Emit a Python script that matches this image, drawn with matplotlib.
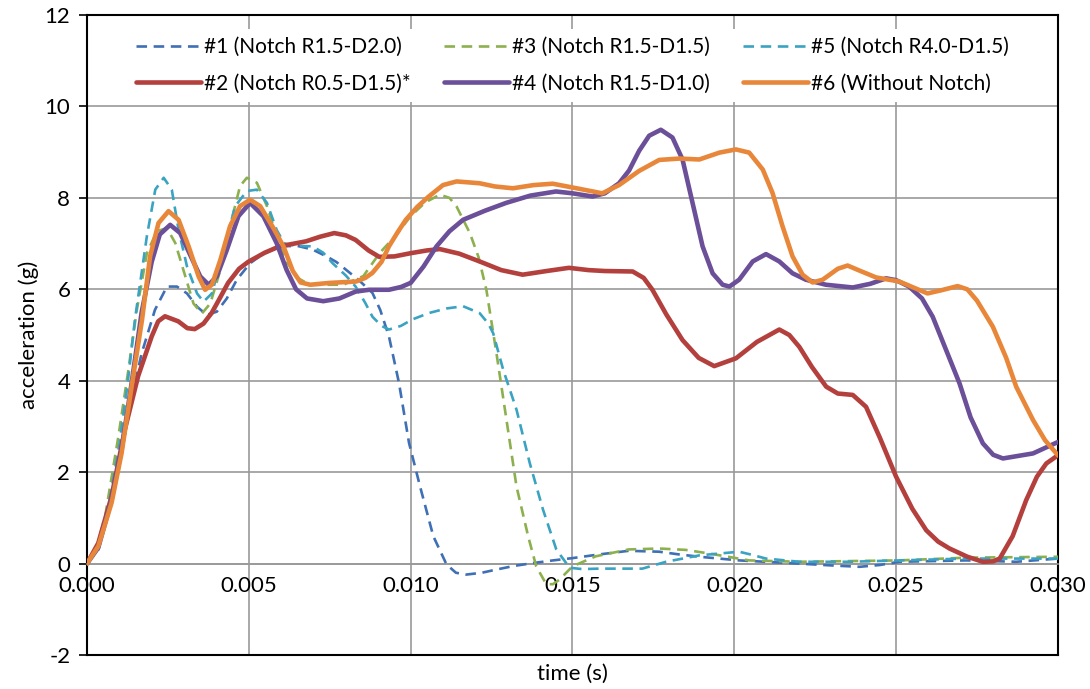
import matplotlib.pyplot as plt
import numpy as np

plt.rcParams['font.family'] = ['Lato', 'DejaVu Sans']
plt.rcParams['axes.unicode_minus'] = False

# time in ms, acceleration in g
t1 = [0, 0.35, 0.76, 1.17, 1.69, 2.1, 2.47, 2.78, 3.09, 3.4, 3.7, 4.01, 4.32, 4.63, 5.04, 5.39, 5.95, 6.5,
      6.97, 7.4, 7.7, 8.0, 8.4, 8.82, 9.06, 9.33, 9.64, 9.95, 10.29, 10.7, 11.11, 11.4, 11.72, 12.2, 12.65,
      13.2, 13.77, 14.4, 15.0, 15.82, 16.74, 17.68, 18.3, 18.92, 20.15, 22.01, 23.0, 23.87, 24.5, 25.1,
      27.16, 28.71, 30]
a1 = [0, 0.45, 1.5, 3.0, 4.6, 5.55, 6.06, 6.06, 5.91, 5.62, 5.44, 5.51, 5.8, 6.21, 6.57, 6.75, 6.94, 6.95,
      6.87, 6.72, 6.6, 6.43, 6.2, 5.92, 5.55, 4.97, 3.95, 2.64, 1.69, 0.6, -0.02, -0.2, -0.24, -0.2, -0.13,
      -0.05, 0.01, 0.07, 0.12, 0.2, 0.28, 0.26, 0.2, 0.15, 0.07, 0.0, -0.04, -0.07, -0.03, 0.04,
      0.07, 0.04, 0.11]

t2 = [0, 0.35, 0.76, 1.17, 1.58, 2.0, 2.2, 2.41, 2.82, 3.1, 3.33, 3.6, 3.85, 4.1, 4.36, 4.7, 4.98, 5.49,
      5.95, 6.4, 6.77, 7.2, 7.64, 8.0, 8.3, 8.7, 9.03, 9.5, 10.0, 10.5, 10.9, 11.5, 12.13, 12.8, 13.46, 14.2,
      14.89, 15.5, 16.0, 16.86, 17.2, 17.47, 17.9, 18.4, 18.9, 19.38, 20.05, 20.7, 21.39, 21.7, 22.01, 22.4,
      22.84, 23.2, 23.66, 24.07, 24.5, 25.0, 25.5, 25.93, 26.3, 26.65, 27.2, 27.68, 28.0, 28.2, 28.6, 29.02,
      29.35, 29.64, 30]
a2 = [0, 0.45, 1.47, 2.93, 4.1, 4.97, 5.3, 5.41, 5.3, 5.15, 5.13, 5.25, 5.48, 5.8, 6.14, 6.45, 6.6, 6.8,
      6.94, 7.0, 7.05, 7.15, 7.23, 7.18, 7.08, 6.85, 6.71, 6.72, 6.79, 6.85, 6.88, 6.78, 6.61, 6.42, 6.32, 6.4,
      6.47, 6.42, 6.4, 6.39, 6.25, 5.99, 5.45, 4.89, 4.5, 4.32, 4.49, 4.85, 5.12, 5.0, 4.74, 4.3,
      3.87, 3.72, 3.69, 3.43, 2.75, 1.9, 1.2, 0.73, 0.48, 0.33, 0.15, 0.04, 0.05, 0.11, 0.6, 1.39,
      1.9, 2.19, 2.37]

t3 = [0, 0.3, 0.56, 0.97, 1.28, 1.54, 1.85, 2.16, 2.47, 2.73, 2.98, 3.29, 3.55, 3.81, 4.12, 4.42, 4.73, 4.94,
      5.25, 5.56, 5.86, 6.17, 6.5, 6.89, 7.92, 8.54, 9.05, 9.57, 10.0, 10.45, 10.9, 11.2, 11.42, 11.83, 12.1,
      12.34, 12.65, 12.96, 13.27, 13.63, 13.88, 14.19, 14.4, 14.6, 15.0, 15.72, 16.74, 17.68, 18.5, 19.23,
      20.46, 22.01, 25.1, 27.16, 30]
a3 = [0, 0.35, 1.03, 2.78, 4.24, 5.55, 6.79, 7.27, 7.34, 7.01, 6.42, 5.69, 5.47, 5.69, 6.42, 7.38, 8.26, 8.44,
      8.33, 7.82, 7.16, 6.6, 6.25, 6.1, 6.1, 6.29, 6.8, 7.2, 7.6, 7.9, 8.07, 8.0, 7.81, 7.23, 6.7,
      5.99, 4.61, 3.15, 1.69, 0.6, -0.06, -0.45, -0.45, -0.35, -0.06, 0.16, 0.31, 0.33, 0.3, 0.22,
      0.07, 0.04, 0.07, 0.13, 0.15]

t4 = [0, 0.35, 0.76, 1.07, 1.38, 1.69, 2.0, 2.25, 2.57, 2.88, 3.19, 3.5, 3.76, 4.01, 4.32, 4.68, 5.04, 5.45,
      5.86, 6.17, 6.46, 6.8, 7.3, 7.8, 8.3, 8.72, 9.33, 9.7, 10.0, 10.4, 10.8, 11.2, 11.62, 12.3, 12.95, 13.7,
      14.49, 15.0, 15.62, 16.0, 16.44, 16.75, 17.06, 17.37, 17.73, 18.09, 18.4, 18.71, 19.02, 19.33, 19.64,
      19.85, 20.15, 20.57, 20.98, 21.39, 21.8, 22.21, 22.83, 23.66, 24.2, 24.69, 25.0, 25.4, 25.8, 26.13,
      26.5, 26.96, 27.3, 27.68, 28.0, 28.3, 29.23, 30]
a4 = [0, 0.35, 1.4, 2.5, 3.95, 5.5, 6.6, 7.2, 7.41, 7.23, 6.75, 6.28, 6.1, 6.28, 6.86, 7.6, 7.89, 7.6,
      7.01, 6.42, 6.0, 5.8, 5.74, 5.8, 5.95, 5.99, 5.99, 6.05, 6.14, 6.5, 6.94, 7.27, 7.52, 7.72, 7.89, 8.05,
      8.14, 8.1, 8.03, 8.1, 8.32, 8.6, 9.03, 9.36, 9.49, 9.32, 8.84, 7.89, 6.94, 6.35, 6.1,
      6.06, 6.21, 6.61, 6.77, 6.61, 6.35, 6.21, 6.1, 6.04, 6.12, 6.24, 6.2, 6.06, 5.8, 5.4,
      4.75, 3.94, 3.2, 2.63, 2.38, 2.3, 2.41, 2.66]

t5 = [0, 0.35, 0.6, 1.0, 1.25, 1.48, 1.85, 2.11, 2.37, 2.62, 2.83, 3.09, 3.4, 3.6, 3.86, 4.22, 4.58, 4.94,
      5.25, 5.56, 5.86, 6.1, 6.5, 6.97, 7.3, 7.59, 8.0, 8.3, 8.6, 8.82, 9.1, 9.33, 9.7, 10.05, 10.56, 11.1,
      11.62, 12.13, 12.4, 12.55, 12.86, 13.27, 13.68, 14.09, 14.5, 14.91, 15.3, 15.82, 17.16, 17.89, 18.92,
      20.15, 20.5, 20.98, 22.01, 23.56, 25.1, 27.16, 30]
a5 = [0, 0.3, 1.0, 2.6, 3.9, 5.33, 7.16, 8.18, 8.44, 8.18, 7.3, 6.5, 5.91, 5.73, 5.91, 6.86, 7.82, 8.15,
      8.18, 7.89, 7.3, 7.0, 6.95, 6.94, 6.8, 6.57, 6.3, 6.06, 5.7, 5.4, 5.2, 5.12, 5.2, 5.34, 5.48, 5.58,
      5.63, 5.48, 5.25, 5.04, 4.24, 3.37, 2.2, 1.18, 0.31, -0.09, -0.12, -0.11, -0.11, 0.04, 0.18,
      0.26, 0.2, 0.11, 0.04, 0.04, 0.07, 0.11, 0.11]

t6 = [0, 0.35, 0.76, 1.07, 1.38, 1.7, 1.95, 2.21, 2.52, 2.83, 3.14, 3.45, 3.65, 3.86, 4.12, 4.42, 4.73, 5.04,
      5.35, 5.76, 6.07, 6.36, 6.6, 6.9, 7.49, 8.31, 8.6, 8.82, 9.1, 9.33, 9.6, 9.85, 10.2, 10.56, 11.0, 11.42,
      12.13, 12.6, 13.16, 13.8, 14.39, 15.2, 15.92, 16.44, 17.06, 17.68, 18.3, 18.92, 19.54, 20.05, 20.46,
      20.88, 21.18, 21.49, 21.8, 22.11, 22.42, 22.73, 23.2, 23.5, 23.9, 24.38, 25.1, 25.5, 25.97, 26.4, 26.9,
      27.2, 27.5, 27.99, 28.4, 28.71, 29.23, 29.6, 30]
a6 = [0, 0.38, 1.33, 2.42, 3.88, 5.33, 6.72, 7.45, 7.71, 7.52, 6.94, 6.28, 5.99, 6.1, 6.64, 7.38, 7.82, 7.96,
      7.82, 7.34, 6.94, 6.4, 6.15, 6.1, 6.14, 6.17, 6.25, 6.36, 6.6, 6.94, 7.25, 7.52, 7.8, 8.03, 8.28, 8.36,
      8.32, 8.25, 8.21, 8.28, 8.31, 8.2, 8.1, 8.28, 8.59, 8.83, 8.86, 8.84, 8.99, 9.06, 8.99,
      8.62, 8.11, 7.38, 6.72, 6.32, 6.15, 6.21, 6.45, 6.52, 6.4, 6.26, 6.17, 6.05, 5.91, 5.98, 6.07,
      6.0, 5.75, 5.18, 4.5, 3.87, 3.14, 2.7, 2.37]

labels = ['#1 (Notch R1.5-D2.0)', '#2 (Notch R0.5-D1.5)*', '#3 (Notch R1.5-D1.5)',
          '#4 (Notch R1.5-D1.0)', '#5 (Notch R4.0-D1.5)', '#6 (Without Notch)']
colors = ['#3F6FB5', '#B3403D', '#8DB04E', '#6B4F98', '#3AA3C2', '#E8873A']
series = [(t1, a1), (t2, a2), (t3, a3), (t4, a4), (t5, a5), (t6, a6)]
dashed = [True, False, True, False, True, False]

fig = plt.figure(figsize=(10.9, 6.89), dpi=100)
ax = fig.add_axes([0.0798, 0.0493, 0.8908, 0.9289])

for (t, a), lab, c, d in zip(series, labels, colors, dashed):
    x = np.array(t) / 1000
    if d:
        ax.plot(x, a, color=c, lw=1.9, dashes=(4, 2.5), label=lab, zorder=3,
                dash_joinstyle='round')
    else:
        ax.plot(x, a, color=c, lw=3.3, label=lab, zorder=4,
                solid_capstyle='round', solid_joinstyle='round')

ax.set_xlim(0, 0.030)
ax.set_ylim(-2, 12)
xt = np.arange(0, 0.0301, 0.005)
ax.set_xticks(xt)
ax.set_xticklabels([f'{v:.3f}' for v in xt])
ax.set_yticks(range(-2, 13, 2))

ax.grid(True, color='#999999', lw=1.2, zorder=1)
ax.set_axisbelow(True)

# x axis crosses at 0, frame drawn all round
ax.spines['bottom'].set_position(('data', 0))
ax.spines['bottom'].set_color('#999999')
ax.spines['bottom'].set_linewidth(1.2)
for s in ['left', 'right', 'top']:
    ax.spines[s].set_color('black')
    ax.spines[s].set_linewidth(1.5)
ax.axhline(-2, color='black', lw=1.5, clip_on=False, zorder=5)

ax.tick_params(axis='x', length=0, pad=9, labelsize=16)
ax.tick_params(axis='y', direction='out', length=6, width=1.2, labelsize=16, pad=6)

ax.set_xlabel('time (s)', fontsize=16)
ax.set_ylabel('acceleration (g)', fontsize=16, labelpad=4)
ax.xaxis.set_label_coords(0.5, -0.014)

leg = ax.legend(loc='upper center', bbox_to_anchor=(0.5, 0.995), ncol=3, fontsize=15,
                frameon=True, framealpha=1, edgecolor='none', fancybox=False,
                handlelength=3.1, handletextpad=0.15, columnspacing=1.6, labelspacing=0.8,
                borderpad=0.4)
leg.get_frame().set_facecolor('white')

fig.savefig('out.png', dpi=100)
